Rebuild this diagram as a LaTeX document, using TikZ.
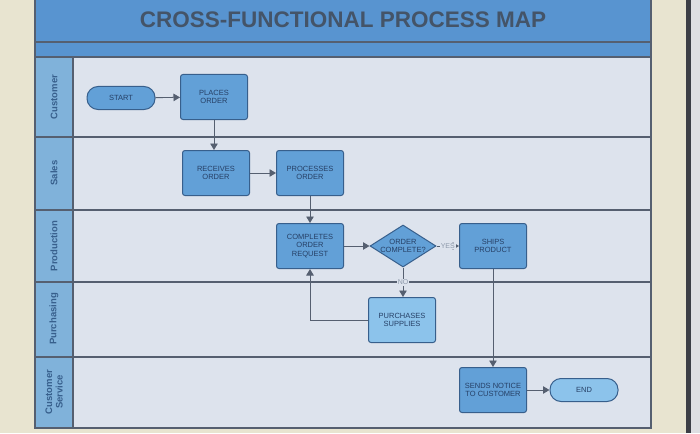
\documentclass[tikz,border=0pt]{standalone}
\usepackage{fontspec}
\setmainfont{Liberation Sans}
\usetikzlibrary{arrows.meta,shapes.geometric}
\definecolor{beige}{RGB}{232,228,208}
\definecolor{titleblue}{RGB}{88,148,208}
\definecolor{labelblue}{RGB}{128,178,218}
\definecolor{lanebg}{RGB}{221,227,237}
\definecolor{nodefill}{RGB}{98,160,215}
\definecolor{nodelight}{RGB}{140,195,235}
\definecolor{nodeborder}{RGB}{55,95,140}
\definecolor{nodetext}{RGB}{38,64,102}
\definecolor{linecol}{RGB}{85,95,112}
\definecolor{titletext}{RGB}{68,84,104}
\definecolor{darkbar}{RGB}{60,62,70}
\definecolor{greyside}{RGB}{222,222,226}
\definecolor{labeltext}{RGB}{140,152,170}
\begin{document}
\begin{tikzpicture}[x=1pt,y=-1pt,
  proc/.style={draw=nodeborder, fill=nodefill, rounded corners=2.5pt, line width=1pt,
    minimum width=67pt, minimum height=45pt, inner sep=1pt, align=center,
    font=\fontsize{7.5}{8.5}\selectfont, text=nodetext},
  term/.style={draw=nodeborder, fill=nodefill, rounded corners=11pt, line width=1pt,
    minimum width=68pt, minimum height=23pt, inner sep=1pt, align=center,
    font=\fontsize{7.5}{8.5}\selectfont, text=nodetext},
  decis/.style={draw=nodeborder, fill=nodefill, diamond, line width=1pt,
    minimum width=66pt, minimum height=42pt, inner sep=0pt},
  ntext/.style={align=center, font=\fontsize{7.5}{8.5}\selectfont, text=nodetext, inner sep=0pt},
  conn/.style={draw=linecol, line width=0.9pt, -{Triangle[width=7.5pt,length=6.5pt]}},
  laneline/.style={draw=linecol, line width=1.1pt},
  lanelabel/.style={rotate=90, align=center, font=\fontsize{9.5}{10.5}\selectfont\bfseries, text=nodeborder},
  edgelabel/.style={fill=lanebg, inner sep=0.8pt, font=\fontsize{7}{7.5}\selectfont, text=labeltext}]
\useasboundingbox (0,0) rectangle (700,433);
% background
\fill[beige] (0,0) rectangle (700,433);
\fill[darkbar] (686,0) rectangle (691,433);
\fill[greyside] (691,0) rectangle (700,433);
% title bands
\fill[titleblue] (35,0) rectangle (651,57);
\draw[laneline] (35,42) -- (651,42);
% lanes
\fill[lanebg] (73,57) rectangle (651,428);
\fill[labelblue] (35,57) rectangle (73,428);
\draw[laneline] (35,57) -- (651,57);
\draw[laneline] (35,137) -- (651,137);
\draw[laneline] (35,210) -- (651,210);
\draw[laneline] (35,282) -- (651,282);
\draw[laneline] (35,357) -- (651,357);
\draw[laneline] (35,0) -- (35,428) -- (651,428) -- (651,0);
\draw[laneline] (73,57) -- (73,428);
% title
\node[font=\fontsize{22.5}{24}\selectfont\bfseries, text=titletext] (title) at (343,20) {CROSS-FUNCTIONAL PROCESS MAP};
% lane labels
\node[lanelabel] (lcust) at (54,97) {Customer};
\node[lanelabel] (lsales) at (54,173) {Sales};
\node[lanelabel] (lprod) at (54,246) {Production};
\node[lanelabel] (lpurch) at (54,319) {Purchasing};
\node[lanelabel] (lserv) at (54,392) {Customer\\Service};
% nodes
\node[term] (start) at (121,98) {START};
\node[proc] (places) at (214,97) {PLACES\\ORDER};
\node[proc] (receives) at (216,173) {RECEIVES\\ORDER};
\node[proc] (processes) at (310,173) {PROCESSES\\ORDER};
\node[proc] (completes) at (310,246) {COMPLETES\\ORDER\\REQUEST};
\node[decis] (decision) at (403,246) {};
\node[ntext] (dtext) at (403,246) {ORDER\\COMPLETE?};
\node[proc] (ships) at (493,246) {SHIPS\\PRODUCT};
\node[proc, fill=nodelight] (purchases) at (402,320) {PURCHASES\\SUPPLIES};
\node[proc] (sends) at (493,390) {SENDS NOTICE\\TO CUSTOMER};
\node[term, fill=nodelight] (end) at (584,390) {END};
% connectors
\draw[conn] (start) -- (places);
\draw[conn] (places.south) -- (places.south |- receives.north);
\draw[conn] (receives) -- (processes);
\draw[conn] (processes) -- (completes);
\draw[conn] (completes) -- (decision);
\draw[conn] (decision) -- node[edgelabel] (yes) {YES} (ships);
\draw[conn] (decision.south) -- node[edgelabel, pos=0.5] (no) {NO} (decision.south |- purchases.north);
\draw[conn] (purchases.west) -| (completes.south);
\draw[conn] (ships) -- (sends);
\draw[conn] (sends) -- (end);
\end{tikzpicture}
\end{document}
